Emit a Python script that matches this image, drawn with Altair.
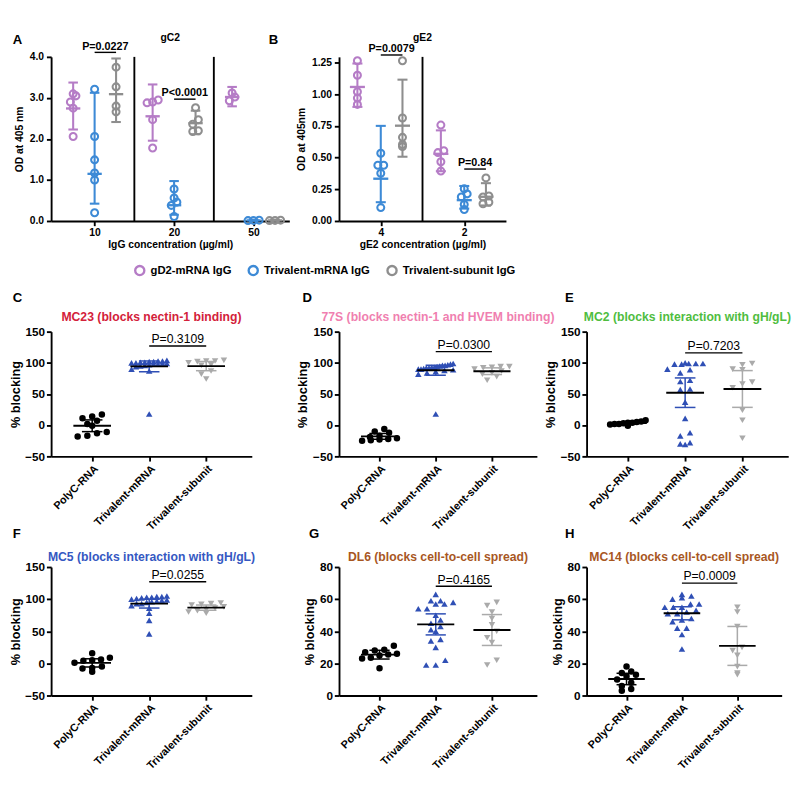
import altair as alt
import pandas as pd

FONT = "Liberation Sans"

# ---------------- data: panel A (gC2) ----------------
a_conc_labels = ["10", "20", "50"]
series_names = ["gD2-mRNA IgG", "Trivalent-mRNA IgG", "Trivalent-subunit IgG"]
series_colors = ["#b57cc6", "#3d8ad6", "#8e8e8e"]

a_gd2_10 = [3.10, 3.05, 2.90, 2.75, 2.06]
a_gd2_20 = [2.95, 2.90, 2.88, 2.47, 1.78]
a_gd2_50 = [3.12, 3.02, 2.93]
a_tmrna_10 = [3.21, 2.06, 1.49, 1.17, 1.00, 0.20]
a_tmrna_20 = [0.78, 0.56, 0.46, 0.38, 0.11]
a_tmrna_50 = [0.020, 0.015, 0.010]
a_tsub_10 = [3.75, 3.27, 2.80, 2.66]
a_tsub_20 = [2.76, 2.47, 2.36, 2.20, 2.18]
a_tsub_50 = [0.020, 0.015, 0.010]
a_p_labels = ["P=0.0227", "P<0.0001"]
a_p_groups = [0, 1]
a_p_y = [4.11, 2.97]

# ---------------- data: panel B (gE2) ----------------
b_conc_labels = ["4", "2"]
b_gd2_4 = [1.265, 1.15, 1.02, 0.97, 0.92]
b_gd2_2 = [0.757, 0.555, 0.54, 0.468, 0.394]
b_tmrna_4 = [0.535, 0.44, 0.44, 0.377, 0.106]
b_tmrna_2 = [0.254, 0.214, 0.19, 0.13, 0.09]
b_tsub_4 = [1.265, 0.813, 0.66, 0.604, 0.587]
b_tsub_2 = [0.34, 0.197, 0.19, 0.148, 0.136]
b_p_labels = ["P=0.0079", "P=0.84"]
b_p_groups = [0, 1]
b_p_y = [1.31, 0.41]

# ---------------- data: blocking panels C-H ----------------
groups = ["PolyC-RNA", "Trivalent-mRNA", "Trivalent-subunit"]
group_colors = ["#000000", "#2f4fb5", "#aaaaaa"]
group_shapes = ["circle", "triangle-up", "triangle-down"]

c_polyc = [17, 14, 11, 7, 2, -1, -11, -13, -17, -18]
c_mrna = [104, 103, 103, 102, 102, 101, 101, 100, 100, 99, 99, 98, 98, 97, 96, 95, 94, 90, 87, 18]
c_sub = [104, 103, 103, 102, 100, 97, 96, 87, 82, 74]

d_polyc = [-6, -10, -12, -17, -19, -21, -22, -23, -24, -25]
d_mrna = [99, 98, 97, 96, 96, 95, 94, 93, 93, 92, 92, 91, 90, 90, 89, 88, 86, 84, 82, 18]
d_sub = [94, 94, 93, 92, 90, 87, 84, 82, 78, 72]

e_polyc = [8, 6, 5, 4, 4, 3, 2, 2, 1, -1]
e_mrna = [100, 99, 99, 99, 98, 98, 90, 89, 84, 72, 70, 58, 57, 37, 11, -12, -17, -28, -30, -31]
e_sub = [99, 97, 90, 89, 69, 66, 60, 24, 8, -21]

f_polyc = [16, 9, 6, 5, 4, 1, -5, -7, -8, -13]
f_mrna = [105, 104, 104, 103, 103, 102, 101, 100, 99, 98, 97, 96, 95, 93, 93, 90, 86, 78, 67, 46]
f_sub = [94, 93, 92, 91, 88, 86, 84, 82, 80, 78]

g_polyc = [31, 28.5, 28, 27, 26, 25.5, 25, 23.5, 23, 17]
g_mrna = [63, 59, 59, 58, 57, 57, 54, 54, 50, 47, 45, 43, 41, 40, 35, 34, 30, 22, 19, 19]
g_sub = [58, 56, 52, 48, 44, 40, 36, 33, 22, 19]

h_polyc = [18, 15, 14, 13, 12, 10, 8, 6, 4, 3]
h_mrna = [63, 62, 61, 60, 57, 57, 55, 55, 55, 53, 52, 51, 51, 48, 47, 46, 42, 42, 38, 29]
h_sub = [55, 52, 43, 30, 28, 25, 18, 14, 13]

p_labels = ["P=0.3109", "P=0.0300", "P=0.7203", "P=0.0255", "P=0.4165", "P=0.0009"]
p_heights = [127, 118, 116, 127, 68, 70]

# two-sided 95% t critical values by degrees of freedom
T975 = [0, 12.706, 4.303, 3.182, 2.776, 2.571, 2.447, 2.365, 2.306, 2.262, 2.228,
        2.201, 2.179, 2.160, 2.145, 2.131, 2.120, 2.110, 2.101, 2.093, 2.086,
        2.080, 2.074, 2.069, 2.064, 2.060, 2.056, 2.052, 2.048, 2.045, 2.042]
TT = "[" + ",".join(str(t) for t in T975) + "]"


def js_list(items):
    return "[" + ",".join(f"'{i}'" if isinstance(i, str) else str(i) for i in items) + "]"


def label_mark(text, x, y, size=14, color="black", weight="bold", align="left", baseline="top"):
    return alt.Chart(pd.DataFrame({"t": [text]})).mark_text(
        font=FONT, fontSize=size, fontWeight=weight, color=color, align=align, baseline=baseline
    ).encode(text="t:N", x=alt.value(x), y=alt.value(y))


def od_panel(values, conc_labels, offsets, ydom, yticks, yfmt, ytitle, xtitle, title,
             letter, letter_x, p_lab, p_grp, p_y, width, height, xdom, bin_size, legend=None):
    rows = []
    for si, per_group in enumerate(values):
        for gi, vals in enumerate(per_group):
            for v in vals:
                rows.append({"s": series_names[si], "si": si, "gi": gi, "v": v})
    df = pd.DataFrame(rows)
    offs = js_list(offsets)
    xs = alt.Scale(domain=xdom, nice=False, zero=False)
    ys = alt.Scale(domain=ydom, nice=False, zero=False)
    cs = alt.Scale(domain=series_names, range=series_colors)
    xaxis = alt.Axis(values=list(range(len(conc_labels))),
                     labelExpr=f"{js_list(conc_labels)}[datum.value]",
                     title=xtitle, labelFontSize=11, titleFontSize=11,
                     labelPadding=2, titlePadding=1, labelAngle=0)
    yaxis = alt.Axis(values=yticks, format=yfmt, title=ytitle, labelFontSize=11,
                     titleFontSize=11, labelPadding=3, titlePadding=5)

    def X(f):
        return alt.X(f, scale=xs, axis=xaxis)

    def Y(f):
        return alt.Y(f, scale=ys, axis=yaxis)

    base = alt.Chart(df)
    pts = base.transform_calculate(
        xc=f"datum.gi + {offs}[datum.si]",
        b=f"floor(datum.v / {bin_size})",
    ).transform_window(
        k="row_number()", n="count()", groupby=["gi", "si", "b"], frame=[None, None],
        sort=[alt.SortField("v")],
    ).transform_calculate(
        xp="datum.xc + (datum.k - 1 - (datum.n - 1) / 2) * min(0.07, 0.22 / max(1, datum.n - 1))"
    ).mark_point(filled=False, size=55, strokeWidth=2.2, opacity=1).encode(
        x=X("xp:Q"), y=Y("v:Q"),
        color=alt.Color("s:N", scale=cs, legend=legend),
    )
    st = base.transform_calculate(lv="log(datum.v)").transform_aggregate(
        lm="mean(lv)", ls="stdev(lv)", n="count()", groupby=["s", "si", "gi"]
    ).transform_calculate(
        h=f"{TT}[datum.n - 1] * datum.ls / sqrt(datum.n)"
    ).transform_calculate(
        gm="exp(datum.lm)", lo="exp(datum.lm - datum.h)", hi="exp(datum.lm + datum.h)",
        xc=f"datum.gi + {offs}[datum.si]",
    ).transform_calculate(
        ml="datum.xc - 0.09", mr="datum.xc + 0.09", cl="datum.xc - 0.06", cr="datum.xc + 0.06"
    )
    col = alt.Color("s:N", scale=cs, legend=None)
    mean = st.mark_rule(strokeWidth=2.5).encode(x=X("ml:Q"), x2="mr:Q", y=Y("gm:Q"), color=col)
    err = st.mark_rule(strokeWidth=2.2).encode(x=X("xc:Q"), y=Y("lo:Q"), y2="hi:Q", color=col)
    cap_lo = st.mark_rule(strokeWidth=2.2).encode(x=X("cl:Q"), x2="cr:Q", y=Y("lo:Q"), color=col)
    cap_hi = st.mark_rule(strokeWidth=2.2).encode(x=X("cl:Q"), x2="cr:Q", y=Y("hi:Q"), color=col)
    sep = alt.Chart(pd.DataFrame({"x": [i + 0.5 for i in range(len(conc_labels) - 1)]})).mark_rule(
        color="black", strokeWidth=2).encode(x=X("x:Q"), y=alt.value(0), y2=alt.value(height))
    pb = alt.Chart(pd.DataFrame({"label": p_lab, "gi": p_grp, "y": p_y})).transform_calculate(
        x1=f"datum.gi + {offs}[1]", x2=f"datum.gi + {offs}[2]"
    ).transform_calculate(xm="(datum.x1 + datum.x2) / 2")
    pline = pb.mark_rule(color="black", strokeWidth=1.5).encode(x=X("x1:Q"), x2="x2:Q", y=Y("y:Q"))
    ptext = pb.mark_text(font=FONT, fontSize=11.5, fontWeight="bold", baseline="alphabetic",
                         dy=-3, color="black").encode(x=X("xm:Q"), y=Y("y:Q"), text="label:N")
    ttl = label_mark(title, width / 2, -20, size=11, align="center", baseline="middle")
    let = label_mark(letter, letter_x, -25, size=14)
    return alt.layer(pts, sep, err, cap_lo, cap_hi, mean, pline, ptext, ttl, let).properties(
        width=width, height=height)


def block_panel(letter, letter_x, letter_y, title, tcolor, title_y, vals3, ydom, ystep,
                p_label, p_y, width, height, bin_size):
    rows = [{"g": groups[gi], "gi": gi, "v": v} for gi, vals in enumerate(vals3) for v in vals]
    df = pd.DataFrame(rows)
    xs = alt.Scale(domain=[-0.72, 2.8], nice=False, zero=False)
    ys = alt.Scale(domain=ydom, nice=False, zero=False)
    cs = alt.Scale(domain=groups, range=group_colors)
    ss = alt.Scale(domain=groups, range=group_shapes)
    xaxis = alt.Axis(values=[0, 1, 2], labelExpr=f"{js_list(groups)}[datum.value]",
                     labelAngle=-45, labelFontSize=11.5, title=None, labelPadding=2,
                     labelOverlap=False, labelBound=False)
    yaxis = alt.Axis(values=list(range(ydom[0], ydom[1] + 1, ystep)), title="% blocking",
                     labelFontSize=12.5, titleFontSize=13.5, labelPadding=2, titlePadding=3)

    def X(f):
        return alt.X(f, scale=xs, axis=xaxis)

    def Y(f):
        return alt.Y(f, scale=ys, axis=yaxis)

    base = alt.Chart(df)
    pts = base.transform_calculate(
        b=f"floor(datum.v / {bin_size})"
    ).transform_window(
        k="row_number()", n="count()", groupby=["gi", "b"], frame=[None, None],
        sort=[alt.SortField("v")],
    ).transform_calculate(
        xp="datum.gi + (datum.k - 1 - (datum.n - 1) / 2) * min(0.17, 0.62 / max(1, datum.n - 1))"
    ).mark_point(filled=True, size=48, opacity=1).encode(
        x=X("xp:Q"), y=Y("v:Q"),
        color=alt.Color("g:N", scale=cs, legend=None),
        shape=alt.Shape("g:N", scale=ss, legend=None),
    )
    st = base.transform_aggregate(
        m="mean(v)", sd="stdev(v)", n="count()", groupby=["g", "gi"]
    ).transform_calculate(
        h=f"{TT}[datum.n - 1] * datum.sd / sqrt(datum.n)"
    ).transform_calculate(
        lo="datum.m - datum.h", hi="datum.m + datum.h",
        ml="datum.gi - 0.33", mr="datum.gi + 0.33", cl="datum.gi - 0.18", cr="datum.gi + 0.18",
    )
    col = alt.Color("g:N", scale=cs, legend=None)
    err = st.mark_rule(strokeWidth=1.6).encode(x=X("gi:Q"), y=Y("lo:Q"), y2="hi:Q", color=col)
    cap_lo = st.mark_rule(strokeWidth=1.6).encode(x=X("cl:Q"), x2="cr:Q", y=Y("lo:Q"), color=col)
    cap_hi = st.mark_rule(strokeWidth=1.6).encode(x=X("cl:Q"), x2="cr:Q", y=Y("hi:Q"), color=col)
    mean = st.mark_rule(strokeWidth=2, color="black").encode(x=X("ml:Q"), x2="mr:Q", y=Y("m:Q"))
    pb = alt.Chart(pd.DataFrame({"label": [p_label], "x1": [1], "x2": [2], "y": [p_y]})
                   ).transform_calculate(xm="(datum.x1 + datum.x2) / 2")
    pline = pb.mark_rule(color="black", strokeWidth=1.5).encode(x=X("x1:Q"), x2="x2:Q", y=Y("y:Q"))
    ptext = pb.mark_text(font=FONT, fontSize=13, baseline="alphabetic", dy=-3,
                         color="black").encode(x=X("xm:Q"), y=Y("y:Q"), text="label:N")
    ttl = label_mark(title, width / 2, title_y, size=13, color=tcolor, align="center",
                     baseline="middle")
    let = label_mark(letter, letter_x, letter_y, size=14)
    return alt.layer(pts, err, cap_lo, cap_hi, mean, pline, ptext, ttl, let).properties(
        width=width, height=height)


legend_a = alt.Legend(orient="none", legendX=88, legendY=221, direction="horizontal", title=None,
                      labelFont=FONT, labelFontSize=12, labelFontWeight="bold", labelColor="black",
                      symbolType="circle", symbolSize=95, symbolStrokeWidth=2.5,
                      columnPadding=12, labelOffset=5, padding=0)

panel_a = od_panel(
    [[a_gd2_10, a_gd2_20, a_gd2_50], [a_tmrna_10, a_tmrna_20, a_tmrna_50],
     [a_tsub_10, a_tsub_20, a_tsub_50]],
    a_conc_labels, [-0.27, 0, 0.27], [0, 4], [0, 1, 2, 3, 4], ".1f", "OD at 405 nm",
    "IgG concentration (µg/ml)", "gC2", "A", -41, a_p_labels, a_p_groups, a_p_y,
    254, 175, [-0.547, 2.45], 0.18, legend=legend_a)

panel_b = od_panel(
    [[b_gd2_4, b_gd2_2], [b_tmrna_4, b_tmrna_2], [b_tsub_4, b_tsub_2]],
    b_conc_labels, [-0.28, 0, 0.26], [0, 1.295], [0, 0.25, 0.5, 0.75, 1.0, 1.25], ".2f",
    "OD at 405nm", "gE2 concentration (µg/ml)", "gE2", "B", -75, b_p_labels, b_p_groups, b_p_y,
    178, 175, [-0.5, 1.5], 0.06)

spacer = alt.Chart(pd.DataFrame({"a": [0]})).mark_point(opacity=0).encode(
    x=alt.X("a:Q", axis=None), y=alt.Y("a:Q", axis=None)).properties(width=1, height=1)

panel_c = block_panel("C", -41, -43, "MC23 (blocks nectin-1 binding)", "#d3213a", -15,
                      [c_polyc, c_mrna, c_sub], [-50, 150], 50, p_labels[0], p_heights[0], 214, 133, 10)
panel_d = block_panel("D", -39, -43, "77S (blocks nectin-1 and HVEM binding)", "#f07fb0", -15,
                      [d_polyc, d_mrna, d_sub], [-50, 150], 50, p_labels[1], p_heights[1], 211, 133, 10)
panel_e = block_panel("E", -23, -43, "MC2 (blocks interaction with gH/gL)", "#4fbd3f", -15,
                      [e_polyc, e_mrna, e_sub], [-50, 150], 50, p_labels[2], p_heights[2], 215, 133, 10)
panel_f = block_panel("F", -41, -42, "MC5 (blocks interaction with gH/gL)", "#3558c2", -10,
                      [f_polyc, f_mrna, f_sub], [-50, 150], 50, p_labels[3], p_heights[3], 214, 137, 10)
panel_g = block_panel("G", -32, -42, "DL6 (blocks cell-to-cell spread)", "#a8571f", -10,
                      [g_polyc, g_mrna, g_sub], [0, 80], 20, p_labels[4], p_heights[4], 211, 137, 4.5)
panel_h = block_panel("H", -23, -42, "MC14 (blocks cell-to-cell spread)", "#a8571f", -10,
                      [h_polyc, h_mrna, h_sub], [0, 80], 20, p_labels[5], p_heights[5], 208, 137, 4.5)

chart = alt.concat(
    panel_a, panel_b, spacer,
    panel_c, panel_d, panel_e,
    panel_f, panel_g, panel_h,
    columns=3, spacing={"row": 118, "column": 53}, bounds="flush", align="none",
).resolve_scale(
    color="independent", shape="independent"
).properties(padding=0).configure_view(stroke=None).configure_axis(
    domainColor="black", tickColor="black", labelColor="black", titleColor="black",
    labelFont=FONT, titleFont=FONT, labelFontWeight="bold", titleFontWeight="bold",
    domainWidth=2, tickWidth=2, tickSize=5, grid=False, labelOverlap=False,
)

chart.save("out.html", embed_options={"renderer": "svg", "actions": False})
